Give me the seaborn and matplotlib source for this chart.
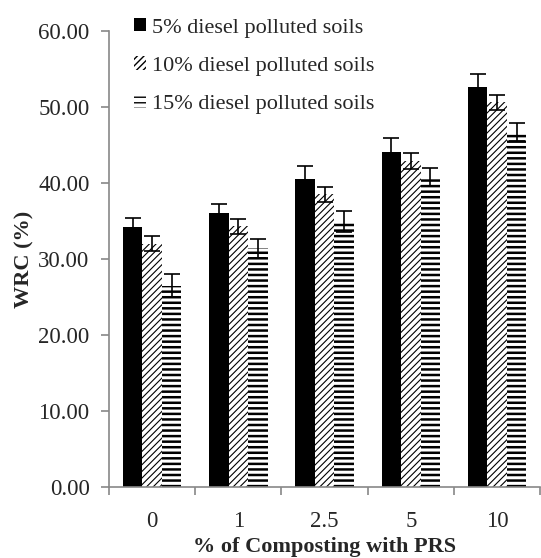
import matplotlib
matplotlib.use("Agg")
import matplotlib.pyplot as plt
import seaborn as sns
import pandas as pd
import numpy as np
from matplotlib.patches import Patch

categories = ["0", "1", "2.5", "5", "10"]
series_names = ["5% diesel polluted soils", "10% diesel polluted soils", "15% diesel polluted soils"]
wrc_5 = [34.2, 36.0, 40.5, 44.1, 52.6]
wrc_10 = [32.0, 34.3, 38.5, 42.9, 50.6]
wrc_15 = [26.5, 31.4, 34.9, 40.8, 46.7]
err_5 = [1.2, 1.2, 1.8, 1.8, 1.7]
err_10 = [1.0, 1.0, 1.0, 1.0, 1.0]
err_15 = [1.5, 1.3, 1.4, 1.2, 1.2]
y_ticks = [0, 10, 20, 30, 40, 50, 60]

sns.set_theme(style="white")
plt.rcParams['font.family'] = ['Liberation Serif', 'DejaVu Serif']
plt.rcParams['hatch.color'] = 'black'
plt.rcParams['hatch.linewidth'] = 1.0

values = [wrc_5, wrc_10, wrc_15]
errors = [err_5, err_10, err_15]
rows = []
for name, vals in zip(series_names, values):
    for c, v in zip(categories, vals):
        rows.append({"cat": c, "series": name, "wrc": v})
df = pd.DataFrame(rows)

fig = plt.figure(figsize=(5.41, 5.58), dpi=100)
ax = fig.add_axes([0.2015, 0.1272, 0.797, 0.8172])

sns.barplot(data=df, x="cat", y="wrc", hue="series", order=categories,
            hue_order=series_names, palette=["black", "white", "white"],
            errorbar=None, width=0.68, ax=ax, legend=False, saturation=1)

hatches = [None, "/////", "---"]
hlw = [1.0, 0.8, 1.8]
for cont, h, lw, errs, vals in zip(ax.containers, hatches, hlw, errors, values):
    xs = []
    for p in cont.patches:
        p.set_linewidth(0)
        p.set_edgecolor("black")
        if h:
            p.set_hatch(h)
            if hasattr(p, "set_hatch_linewidth"):
                p.set_hatch_linewidth(lw)
        xs.append(p.get_x() + p.get_width() / 2)
    ax.errorbar(xs, vals, yerr=errs, fmt="none", ecolor="black",
                elinewidth=1.2, capsize=5.5, capthick=1.2, zorder=5)

ax.set_ylim(0, 60)
ax.set_xlim(-0.5, 4.5)
ax.set_yticks(y_ticks)
ax.set_yticklabels([f"{t:.2f}" for t in y_ticks], fontsize=16.5)
ax.set_xticks(np.arange(-0.5, 5.0, 1.0))
ax.set_xticklabels([])
ax.set_xticks(np.arange(len(categories)), minor=True)
ax.set_xticklabels(categories, minor=True, fontsize=16.5)
ax.tick_params(axis="x", which="minor", length=0, pad=17)
ax.tick_params(axis="both", which="major", length=5.5, width=1.2, color="#888888",
               direction="out", bottom=True, left=True)
ax.tick_params(axis="y", pad=8.5)

for s in ["top", "right"]:
    ax.spines[s].set_visible(False)
for s in ["left", "bottom"]:
    ax.spines[s].set_color("#888888")
    ax.spines[s].set_linewidth(1.2)

ax.set_xlabel("% of Composting with PRS", fontsize=16, fontweight="bold", labelpad=4)
ax.set_ylabel("WRC (%)", fontsize=16, fontweight="bold", labelpad=3)

handles = [Patch(facecolor="black", edgecolor="black", linewidth=0),
           Patch(facecolor="white", edgecolor="black", hatch="/////", linewidth=0),
           Patch(facecolor="white", edgecolor="black", hatch="---", linewidth=0)]
leg = ax.legend(handles, series_names, loc="upper left",
                bbox_to_anchor=(134 / 541, 1 - 18 / 558), bbox_transform=fig.transFigure,
                frameon=False, fontsize=16, handlelength=0.55, handleheight=0.55,
                handletextpad=0.25, labelspacing=0.85, borderpad=0, borderaxespad=0)

fig.savefig("out.png", dpi=100)
